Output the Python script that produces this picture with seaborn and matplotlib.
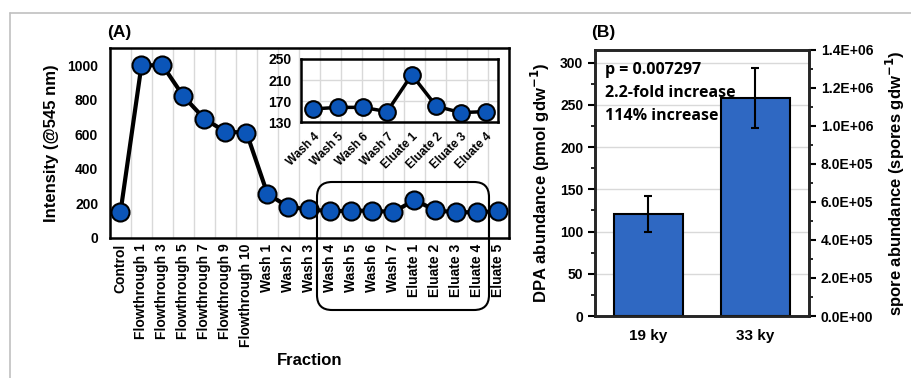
import seaborn as sns
import matplotlib.pyplot as plt
import pandas as pd
import numpy as np
from matplotlib.patches import FancyBboxPatch
from matplotlib.lines import Line2D
from matplotlib.transforms import IdentityTransform
from matplotlib.ticker import MultipleLocator, FuncFormatter

# panel A data
fractions = ['Control', 'Flowthrough 1', 'Flowthrough 3', 'Flowthrough 5', 'Flowthrough 7',
             'Flowthrough 9', 'Flowthrough 10', 'Wash 1', 'Wash 2', 'Wash 3', 'Wash 4',
             'Wash 5', 'Wash 6', 'Wash 7', 'Eluate 1', 'Eluate 2', 'Eluate 3', 'Eluate 4',
             'Eluate 5']
intensity = [150, 1000, 1000, 820, 690, 615, 610, 255, 180, 165, 155,
             158, 158, 150, 220, 160, 148, 150, 155]

# inset data (zoom on Wash 4 .. Eluate 4)
inset_fractions = ['Wash 4', 'Wash 5', 'Wash 6', 'Wash 7', 'Eluate 1', 'Eluate 2',
                   'Eluate 3', 'Eluate 4']
inset_intensity = [155, 158, 158, 150, 220, 160, 148, 150]

# panel B data
ages = ['19 ky', '33 ky']
dpa = [121, 258]
dpa_err = [21, 36]

annot = ['p = 0.007297', '2.2-fold increase', '114% increase']

marker_blue = '#0B55B8'
bar_blue = '#2F68C2'
grid_grey = '#d9d9d9'

sns.set_style("white")
plt.rcParams['font.family'] = ['Liberation Sans', 'DejaVu Sans']
plt.rcParams['font.weight'] = 'bold'
plt.rcParams['axes.labelweight'] = 'bold'
plt.rcParams['text.color'] = 'black'
plt.rcParams['axes.labelcolor'] = 'black'
plt.rcParams['xtick.color'] = 'black'
plt.rcParams['ytick.color'] = 'black'

fig = plt.figure(figsize=(9.12, 3.78), dpi=100)

# ---------------- panel A ----------------
ax = fig.add_axes([0.1206, 0.3704, 0.4375, 0.5026])
df = pd.DataFrame({'pos': np.arange(len(fractions)), 'Intensity': intensity})
sns.lineplot(data=df, x='pos', y='Intensity', sort=False, color='black', linewidth=3,
             marker='o', markersize=13, markerfacecolor=marker_blue,
             markeredgecolor='black', markeredgewidth=1.5, ax=ax, zorder=3)
n = len(fractions)
ax.set_xlim(-0.5, n - 0.5)
ax.set_ylim(0, 1100)
bounds = np.arange(-0.5, n, 1.0)
ax.set_xticks(bounds)
ax.set_xticklabels([])
ax.set_xticks(np.arange(n), minor=True)
ax.set_xticklabels(fractions, minor=True, rotation=90, fontsize=10, fontweight='bold')
ax.tick_params(axis='x', which='minor', length=0, pad=4)
ax.tick_params(axis='x', which='major', direction='inout', length=8, width=1.5)
ax.set_yticks(np.arange(0, 1001, 200))
ax.yaxis.set_minor_locator(MultipleLocator(100))
ax.tick_params(axis='y', which='major', direction='out', length=5, width=1.5, labelsize=10)
ax.tick_params(axis='y', which='minor', direction='out', length=3, width=1.2)
for lab in ax.get_yticklabels():
    lab.set_fontweight('bold')
for b in bounds[1:-1]:
    ax.axvline(b, color=grid_grey, linewidth=1, zorder=0)
ax.set_xlabel('Fraction', fontsize=12, labelpad=4)
ax.set_ylabel('Intensity (@545 nm)', fontsize=12, labelpad=6)
for s in ax.spines.values():
    s.set_linewidth(1.8)
    s.set_color('black')

# inset
axi = fig.add_axes([0.330, 0.677, 0.216, 0.167])
axi.patch.set_alpha(0)
dfi = pd.DataFrame({'pos': np.arange(len(inset_fractions)), 'Intensity': inset_intensity})
sns.lineplot(data=dfi, x='pos', y='Intensity', sort=False, color='black', linewidth=2.5,
             marker='o', markersize=12, markerfacecolor=marker_blue,
             markeredgecolor='black', markeredgewidth=1.5, ax=axi, zorder=3)
m = len(inset_fractions)
axi.set_xlim(-0.5, m - 0.5)
axi.set_ylim(130, 250)
axi.set_yticks([130, 170, 210, 250])
for yv in [170, 210]:
    axi.axhline(yv, color=grid_grey, linewidth=1, zorder=0)
axi.set_xticks(np.arange(-0.5, m, 1.0))
axi.set_xticklabels([])
axi.set_xticks(np.arange(m), minor=True)
axi.set_xticklabels(inset_fractions, minor=True, rotation=45, ha='right',
                    rotation_mode='anchor', fontsize=8.5, fontweight='bold')
axi.tick_params(axis='x', which='minor', length=0, pad=6)
axi.tick_params(axis='x', which='major', direction='inout', length=7, width=1.5)
axi.tick_params(axis='y', direction='out', length=5, width=1.5, labelsize=10, pad=2)
for lab in axi.get_yticklabels():
    lab.set_fontweight('bold')
axi.set_xlabel('')
axi.set_ylabel('')
for s in axi.spines.values():
    s.set_linewidth(1.8)
    s.set_color('black')

# ---------------- panel B ----------------
axb = fig.add_axes([0.6524, 0.164, 0.2346, 0.704])
dfb = pd.DataFrame({'Age': ages, 'DPA': dpa})
sns.barplot(data=dfb, x='Age', y='DPA', color=bar_blue, saturation=1, width=0.645,
            edgecolor='black', linewidth=1.5, ax=axb, zorder=2)
axb.errorbar(np.arange(len(ages)), dpa, yerr=dpa_err, fmt='none', ecolor='black',
             elinewidth=1.5, capsize=3, capthick=1.5, zorder=3)
axb.set_xlim(-0.5, len(ages) - 0.5)
axb.set_ylim(0, 315)
axb.set_yticks(np.arange(0, 301, 50))
axb.yaxis.set_minor_locator(MultipleLocator(25))
for yv in np.arange(50, 301, 50):
    axb.axhline(yv, color=grid_grey, linewidth=1, zorder=0)
axb.set_xticks([0.5], minor=True)
axb.tick_params(axis='x', which='minor', direction='inout', length=8, width=1.5)
axb.tick_params(axis='x', which='major', length=0, labelsize=11, pad=9)
axb.tick_params(axis='y', which='major', direction='out', length=5, width=1.5, labelsize=10)
axb.tick_params(axis='y', which='minor', direction='out', length=3, width=1.2)
for lab in axb.get_xticklabels() + axb.get_yticklabels():
    lab.set_fontweight('bold')
axb.set_xlabel('')
axb.set_ylabel('DPA abundance (pmol gdw$^{\\mathbf{-1}}$)', fontsize=12, labelpad=6)
for s in axb.spines.values():
    s.set_linewidth(1.8)
    s.set_color('black')
for i, t in enumerate(annot):
    axb.text(0.045, 0.955 - i * 0.087, t, transform=axb.transAxes, fontsize=11.5,
             fontweight='bold', va='top', ha='left', family=['Open Sans', 'DejaVu Sans'])

ax2 = axb.twinx()
ax2.set_ylim(0, 1.4e6)
ax2.set_yticks(np.arange(0, 1.41e6, 2e5))
ax2.yaxis.set_minor_locator(MultipleLocator(1e5))
ax2.yaxis.set_major_formatter(FuncFormatter(lambda v, p: f'{v:.1E}'))
ax2.tick_params(axis='y', which='major', direction='out', length=5, width=1.5, labelsize=10)
ax2.tick_params(axis='y', which='minor', direction='out', length=3, width=1.2)
for lab in ax2.get_yticklabels():
    lab.set_fontweight('bold')
ax2.set_ylabel('spore abundance (spores gdw$^{\\mathbf{-1}}$)', fontsize=12, labelpad=8)
for s in ax2.spines.values():
    s.set_linewidth(1.8)

# panel labels
fig.text(107 / 912, 1 - 33 / 378, '(A)', fontsize=12.5, fontweight='bold', va='center')
fig.text(591 / 912, 1 - 32 / 378, '(B)', fontsize=12.5, fontweight='bold', va='center')

# rounded box around the zoomed region (pixel coordinates)
box = FancyBboxPatch((317, 378 - 310), 172, 128, boxstyle='round,pad=0,rounding_size=15',
                     transform=IdentityTransform(), fill=False, edgecolor='black',
                     linewidth=1.5, zorder=5)
fig.patches.append(box)

# faint frame of the original figure
fig.add_artist(Line2D([10 / 912, 1], [1 - 13 / 378, 1 - 13 / 378], color='#c0c0c0', linewidth=1.2))
fig.add_artist(Line2D([10 / 912, 10 / 912], [0, 1 - 13 / 378], color='#c0c0c0', linewidth=1.2))

fig.savefig('out.png', dpi=100)
